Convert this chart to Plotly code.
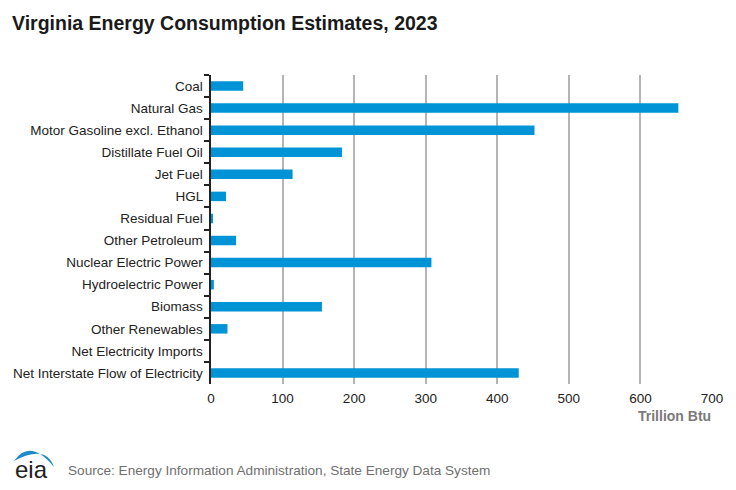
import plotly.graph_objects as go

categories = ["Coal", "Natural Gas", "Motor Gasoline excl. Ethanol", "Distillate Fuel Oil",
              "Jet Fuel", "HGL", "Residual Fuel", "Other Petroleum", "Nuclear Electric Power",
              "Hydroelectric Power", "Biomass", "Other Renewables", "Net Electricity Imports",
              "Net Interstate Flow of Electricity"]
values = [45, 653, 452, 183, 114, 21, 2, 35, 308, 4, 155, 23, 0, 430]
x_ticks = [0, 100, 200, 300, 400, 500, 600, 700]

W, H = 736, 490
L, R, T, B = 211, 24, 75, 106
PW, PH = W - L - R, H - T - B

def px(x):
    return (x - L) / PW

def py(y):
    return (H - B - y) / PH

FONT = "Liberation Sans, Arial, sans-serif"

fig = go.Figure(go.Bar(
    y=categories, x=values, orientation="h",
    marker=dict(color="#0093d5", line=dict(width=0)),
    width=0.43,
))

fig.update_layout(
    width=W, height=H,
    margin=dict(l=L, r=R, t=T, b=B),
    paper_bgcolor="white", plot_bgcolor="white",
    font=dict(family=FONT, size=13.5, color="#222222"),
    showlegend=False,
    xaxis=dict(range=[0, 700], tickvals=x_ticks, showgrid=True, gridcolor="#b4b4b4", gridwidth=1.5,
               zeroline=False, showline=False, ticks="outside", ticklen=2,
               tickcolor="rgba(0,0,0,0)", tickfont=dict(size=13.5, color="#222222")),
    yaxis=dict(autorange="reversed", showline=True, linecolor="#222222", linewidth=1.5,
               ticks="outside", ticklen=5, tickwidth=1.5, tickcolor="#222222",
               tickson="boundaries", showgrid=False, ticksuffix=" ",
               tickfont=dict(size=13.5, color="#222222")),
)

annotations = [
    dict(text="<b>Virginia Energy Consumption Estimates, 2023</b>", x=px(10), y=py(23),
         xref="paper", yref="paper", xanchor="left", yanchor="middle", showarrow=False,
         font=dict(size=19.5, color="#1a1a1a")),
    dict(text="<b>Trillion Btu</b>", x=px(713), y=py(416), xref="paper", yref="paper",
         xanchor="right", yanchor="middle", showarrow=False, font=dict(size=14, color="#7a7a7a")),
    dict(text="Source: Energy Information Administration, State Energy Data System", x=px(66), y=py(471),
         xref="paper", yref="paper", xanchor="left", yanchor="middle", showarrow=False,
         font=dict(size=13.6, color="#707070")),
    dict(text="eia", x=px(13), y=py(469), xref="paper", yref="paper", xanchor="left", yanchor="middle",
         showarrow=False, font=dict(size=24, color="#222222")),
]
fig.update_layout(annotations=annotations)

# eia logo arc (pixel-relative path anchored at top-left corner of the page)
arc = "M 14 -461 Q 30 -438 54 -467 Q 46 -444 14 -461 Z"
fig.add_shape(type="path", path=arc, xref="paper", yref="paper",
              xsizemode="pixel", ysizemode="pixel", xanchor=px(0), yanchor=py(0),
              fillcolor="#1f8ac9", line=dict(width=0))

fig.write_html("out.html")
